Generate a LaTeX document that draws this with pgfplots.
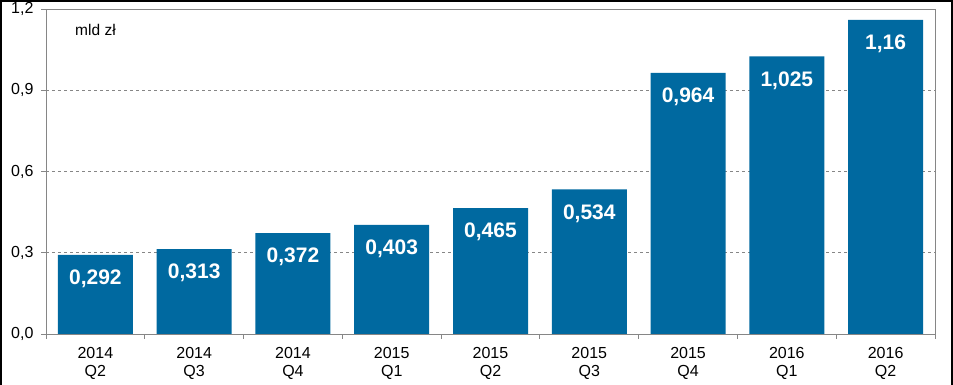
\documentclass[border=0pt]{standalone}
\usepackage{pgfplots}
\pgfplotsset{compat=1.18}
\usepackage{fontspec}
\setmainfont{Liberation Sans}
\definecolor{barblue}{RGB}{0,105,160}
\definecolor{axgray}{RGB}{134,134,134}
\begin{document}
\begin{tikzpicture}[x=1pt,y=1pt]
\useasboundingbox (-46,-51) rectangle (907,334);
\draw[black,line width=1.6pt] (-45.2,-52) -- (-45.2,333.2) -- (905.8,333.2) -- (905.8,-52);
\begin{axis}[
  at={(0,0)}, anchor=south west,
  scale only axis, width=889pt, height=325pt,
  xmin=-0.5, xmax=8.5, ymin=0, ymax=1.2,
  ybar, bar width=75pt, bar shift=0pt,
  axis line style={axgray, line width=0.8pt},
  xtick={0,...,8},
  xticklabels={{2014\\Q2},{2014\\Q3},{2014\\Q4},{2015\\Q1},{2015\\Q2},{2015\\Q3},{2015\\Q4},{2016\\Q1},{2016\\Q2}},
  xticklabel style={align=center, font=\fontsize{16}{17.5}\selectfont, yshift=-5pt},
  major x tick style={draw=none},
  minor xtick={-0.5,0.5,...,8.5},
  minor x tick style={axgray, line width=0.8pt},
  minor tick length=5pt,
  ytick={0,0.3,0.6,0.9,1.2},
  major y tick style={axgray, line width=0.8pt},
  major tick length=5pt,
  tick align=outside,
  xtick pos=bottom, ytick pos=left,
  yticklabel style={font=\fontsize{16}{18}\selectfont, xshift=-4pt, /pgf/number format/.cd, fixed, fixed zerofill, precision=1, use comma, assume math mode=true},
  ymajorgrids,
  grid style={axgray, dashed, line width=0.7pt},
  nodes near coords={\pgfmathprintnumber[use comma,precision=3,assume math mode=true]{\pgfplotspointmeta}},
  every node near coord/.append style={anchor=center, yshift=-24pt, font=\fontsize{21}{24}\selectfont\bfseries, text=white},
  clip=false,
]
\addplot[fill=barblue, draw=none] coordinates {
(0,0.292) (1,0.313) (2,0.372) (3,0.403) (4,0.465) (5,0.534) (6,0.964) (7,1.025) (8,1.16)};
\node[anchor=west, inner sep=0pt, font=\fontsize{15.5}{17}\selectfont] at (axis cs:-0.206,1.122) {mld zł};
\end{axis}
\end{tikzpicture}
\end{document}
